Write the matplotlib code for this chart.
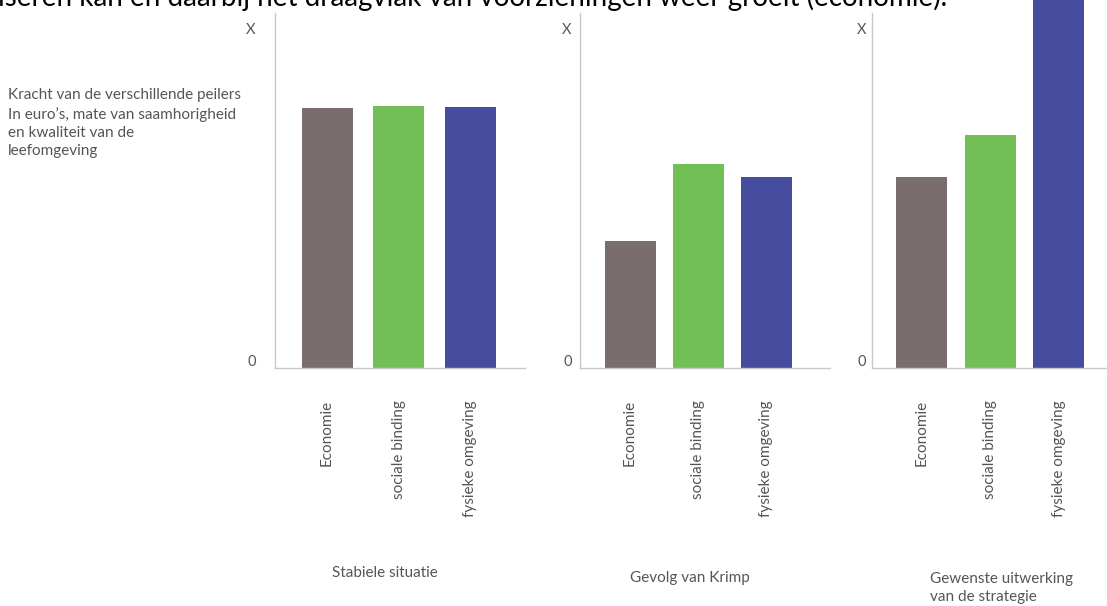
import matplotlib
matplotlib.use("Agg")
import matplotlib.pyplot as plt
import matplotlib.transforms as mtransforms

plt.rcParams['font.family'] = ['Lato', 'DejaVu Sans']

categories = ['Economie', 'sociale binding', 'fysieke omgeving']
stabiel = [0.765, 0.771, 0.768]
krimp = [0.374, 0.600, 0.562]
strategie = [0.562, 0.685, 1.10]
titles = ['Stabiele situatie', 'Gevolg van Krimp', 'Gewenste uitwerking\nvan de strategie']
tick_labels = ['0', 'X']

colors = ['#7a6d6e', '#72bf55', '#474d9e']
grey = '#555555'
spine_col = '#c8c8c8'

W, H = 1107, 606
fig = plt.figure(figsize=(W / 100, H / 100), dpi=100)

# left spine px, right end px, first bar offset px, px per category, tick pad,
# title x px, title y px, title alignment
panels = [(275, 525, 52, 71.5, 14, 385, 573, 'center'),
          (580, 830, 50, 68.0, 6, 690, 578, 'center'),
          (872, 1107, 49.5, 68.5, 4, 930, 588, 'left')]
y0, ytop, unit = 368, 13, 340.0   # baseline px, top of spine px, px per 1.0

for (xl, xr, off, step, pad, tx, ty, ha), vals, title in zip(
        panels, [stabiel, krimp, strategie], titles):
    ax = fig.add_axes([xl / W, 1 - y0 / H, (xr - xl) / W, (y0 - ytop) / H])
    x = range(len(categories))
    ax.bar(x, vals, width=51 / step, color=colors, clip_on=False)
    ax.set_ylim(0, (y0 - ytop) / unit)
    left = -off / step
    ax.set_xlim(left, left + (xr - xl) / step)
    for s in ['top', 'right']:
        ax.spines[s].set_visible(False)
    for s in ['left', 'bottom']:
        ax.spines[s].set_color(spine_col)
        ax.spines[s].set_linewidth(1.0)
    ax.set_yticks([0, 1])
    ax.set_yticklabels(tick_labels, color=grey, fontsize=10.5)
    ax.tick_params(axis='y', length=0, pad=pad)
    lbl0 = ax.get_yticklabels()[0]
    lbl0.set_transform(lbl0.get_transform() +
                       mtransforms.ScaledTranslation(0, 8 / 100, fig.dpi_scale_trans))
    ax.set_xticks(list(x))
    ax.set_xticklabels(categories, rotation=90, va='top', ha='center',
                       color=grey, fontsize=11)
    ax.tick_params(axis='x', length=0, pad=23)
    fig.text(tx / W, 1 - ty / H, title, ha=ha, va='center', color=grey,
             fontsize=11, linespacing=1.45)

fig.text(8 / W, 1 - 88 / H,
         "Kracht van de verschillende peilers\nIn euro\u2019s, mate van saamhorigheid\n"
         "en kwaliteit van de\nleefomgeving",
         ha='left', va='top', color=grey, fontsize=11, linespacing=1.4)

# line of body text above the chart, cut off by the top edge as in the source
fig.text(-2 / W, 1 - 6 / H,
         "iseren kan en daarbij het draagvlak van voorzieningen weer groeit (economie).",
         ha='left', va='baseline', color='black', fontsize=20)

fig.savefig('out.png', dpi=100)
